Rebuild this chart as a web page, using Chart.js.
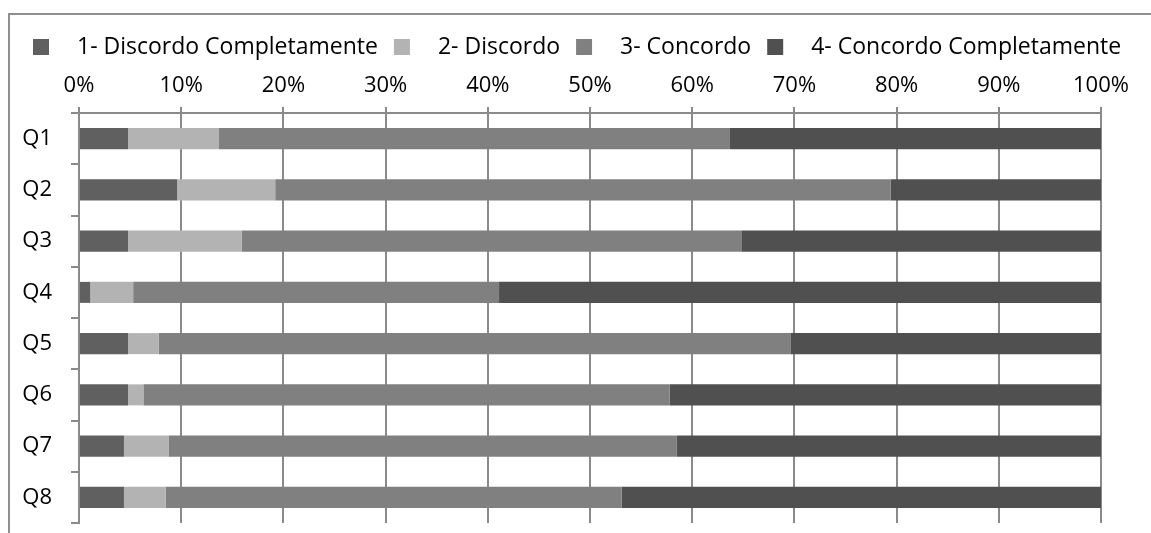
<!DOCTYPE html>
<html>
<head>
<meta charset="utf-8">
<script src="https://cdn.jsdelivr.net/npm/chart.js@4.4.0/dist/chart.umd.min.js"></script>
<style>
  html, body { margin: 0; padding: 0; background: #fff; }
  #wrap { position: relative; width: 1151px; height: 533px; }
</style>
</head>
<body>
<div id="wrap"><canvas id="barChart"></canvas></div>
<script>
// questions and share of answers (%) for each level of agreement
const questions = ['Q1', 'Q2', 'Q3', 'Q4', 'Q5', 'Q6', 'Q7', 'Q8'];
const seriesNames = ['1- Discordo Completamente', '2- Discordo', '3- Concordo', '4- Concordo Completamente'];
const discordoCompletamente = [4.8, 9.6, 4.8, 1.1, 4.8, 4.8, 4.4, 4.4];
const discordo = [8.9, 9.6, 11.1, 4.2, 3.0, 1.5, 4.4, 4.1];
const concordo = [50.0, 60.2, 48.9, 35.8, 61.8, 51.5, 49.7, 44.6];
const concordoCompletamente = [36.3, 20.6, 35.2, 58.9, 30.4, 42.2, 41.5, 46.9];
const percentTicks = ['0%', '10%', '20%', '30%', '40%', '50%', '60%', '70%', '80%', '90%', '100%'];

const seriesColors = ['#606060', '#b3b3b3', '#808080', '#505050'];
const FONT = '"Open Sans", sans-serif';
const gridGray = '#8a8a8a';

// legend row and the outer frame drawn straight on the canvas
const topLegend = {
    id: 'topLegend',
    beforeDraw(chart) {
        const ctx = chart.ctx;
        ctx.save();
        ctx.strokeStyle = '#8f8f8f';
        ctx.lineWidth = 2;
        ctx.beginPath();
        ctx.moveTo(9, chart.height);
        ctx.lineTo(9, 14);
        ctx.lineTo(chart.width, 14);
        ctx.stroke();
        ctx.restore();
    },
    afterDraw(chart) {
        const ctx = chart.ctx;
        ctx.save();
        ctx.font = '23px ' + FONT;
        ctx.textBaseline = 'middle';
        let x = 33;
        const y = 47;
        chart.data.datasets.forEach(ds => {
            ctx.fillStyle = ds.backgroundColor;
            ctx.fillRect(x, y - 8, 16, 16);
            x += 16 + 28;
            ctx.fillStyle = '#000';
            ctx.fillText(ds.label, x, y);
            x += ctx.measureText(ds.label).width + 16;
        });
        ctx.restore();
    }
};

const values = [discordoCompletamente, discordo, concordo, concordoCompletamente];

new Chart(document.getElementById('barChart'), {
    type: 'bar',
    data: {
        labels: questions,
        datasets: values.map((v, i) => ({
            label: seriesNames[i],
            data: v,
            backgroundColor: seriesColors[i],
            borderWidth: 0,
            barPercentage: 0.41,
            categoryPercentage: 1
        }))
    },
    options: {
        indexAxis: 'y',
        responsive: true,
        maintainAspectRatio: false,
        animation: false,
        layout: { padding: { left: 9, top: 70, right: 50, bottom: 10 } },
        plugins: {
            legend: { display: false },
            tooltip: { enabled: false }
        },
        scales: {
            x: {
                position: 'top',
                stacked: true,
                min: 0,
                max: 100,
                ticks: {
                    stepSize: 10,
                    color: '#000',
                    font: { family: FONT, size: 22 },
                    padding: 8,
                    callback: (value, index) => percentTicks[index]
                },
                grid: { color: gridGray, lineWidth: 2, tickLength: 6 },
                border: { color: gridGray, width: 2 },
                afterFit(scale) { scale.height = 43; }
            },
            y: {
                stacked: true,
                ticks: {
                    color: '#000',
                    font: { family: FONT, size: 22 },
                    padding: 19
                },
                grid: { drawOnChartArea: false, color: gridGray, lineWidth: 2, tickLength: 8 },
                border: { color: gridGray, width: 2 },
                afterFit(scale) {
                    // keep the label padding from pushing the plot area up
                    scale.width = 70;
                    scale.paddingTop = 0;
                    scale.paddingBottom = 0;
                }
            }
        }
    },
    plugins: [topLegend]
});
</script>
</body>
</html>
